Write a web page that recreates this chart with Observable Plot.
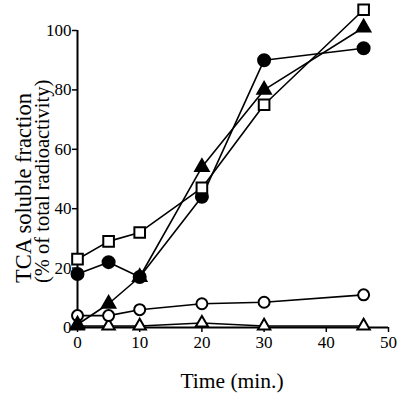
<!DOCTYPE html>
<html><head><meta charset="utf-8">
<script src="https://cdn.jsdelivr.net/npm/d3@7"></script>
<script src="https://cdn.jsdelivr.net/npm/@observablehq/plot@0.6"></script>
<style>body{margin:0;background:#fff}</style>
</head><body><div id="chart"></div>
<script>
const times = [0, 5, 10, 20, 30, 46];
const openSquare = [23, 29, 32, 47, 75, 107];
const filledCircle = [18, 22, 17, 44, 90, 94];
const filledTriangle = [1, 8, 17, 54, 80, 101];
const openCircle = [4, 4, 6, 8, 8.5, 11];
const openTriangle = [0.5, 0.5, 0.5, 1.5, 0.5, 0.5];
const xTicks = [0, 10, 20, 30, 40, 50];
const yTicks = [0, 20, 40, 60, 80, 100];

const seriesDefs = [
  {name: "openTriangle", vals: openTriangle, symbol: "triangle", fill: "white", r: 4.6},
  {name: "openCircle", vals: openCircle, symbol: "circle", fill: "white", r: 5.5},
  {name: "filledCircle", vals: filledCircle, symbol: "circle", fill: "black", r: 6},
  {name: "openSquare", vals: openSquare, symbol: "square", fill: "white", r: 6},
  {name: "filledTriangle", vals: filledTriangle, symbol: "triangle", fill: "black", r: 5}
];
const data = seriesDefs.flatMap(s => s.vals.map((v, i) => ({series: s.name, t: times[i], v})));
const serif = "'Liberation Serif', 'Times New Roman', serif";

const plot = Plot.plot({
  width: 400, height: 400,
  marginLeft: 77, marginRight: 12, marginTop: 30, marginBottom: 73,
  style: {fontFamily: serif, fontSize: "17px", color: "black", background: "white"},
  x: {domain: [0, 50], ticks: xTicks, label: null},
  y: {domain: [0, 100], ticks: yTicks, label: null},
  marks: [
    Plot.axisX({ticks: xTicks, tickSize: 5, tickPadding: 3, strokeWidth: 1.5, fontSize: 17, label: null}),
    Plot.axisY({ticks: yTicks, tickSize: 5, tickPadding: 1, strokeWidth: 1.5, fontSize: 17, label: null}),
    Plot.ruleX([0], {y1: 0, y2: 100, strokeWidth: 2}),
    Plot.ruleY([0], {x1: 0, x2: 50, strokeWidth: 2}),
    Plot.line(data, {x: "t", y: "v", z: "series", stroke: "black", strokeWidth: 1.6}),
    ...seriesDefs.map(s => Plot.dot(data.filter(d => d.series === s.name), {x: "t", y: "v", symbol: () => s.symbol, fill: s.fill, stroke: "black", strokeWidth: 2, r: s.r}))
  ]
});
document.getElementById("chart").appendChild(plot);
const svg = d3.select(plot);
svg.append("text").attr("x", 232).attr("y", 388).attr("text-anchor", "middle")
  .attr("font-size", 21.5).attr("fill", "black").text("Time (min.)");
svg.append("text").attr("transform", "translate(31,283) rotate(-90)").attr("text-anchor", "start")
  .attr("font-size", 22.5).attr("fill", "black").text("TCA soluble fraction");
svg.append("text").attr("transform", "translate(49,283) rotate(-90)").attr("text-anchor", "start")
  .attr("font-size", 20.5).attr("fill", "black").text("(% of total radioactivity)");
svg.selectAll("text").style("font-family", serif).style("font-variant", "normal");
</script></body></html>
